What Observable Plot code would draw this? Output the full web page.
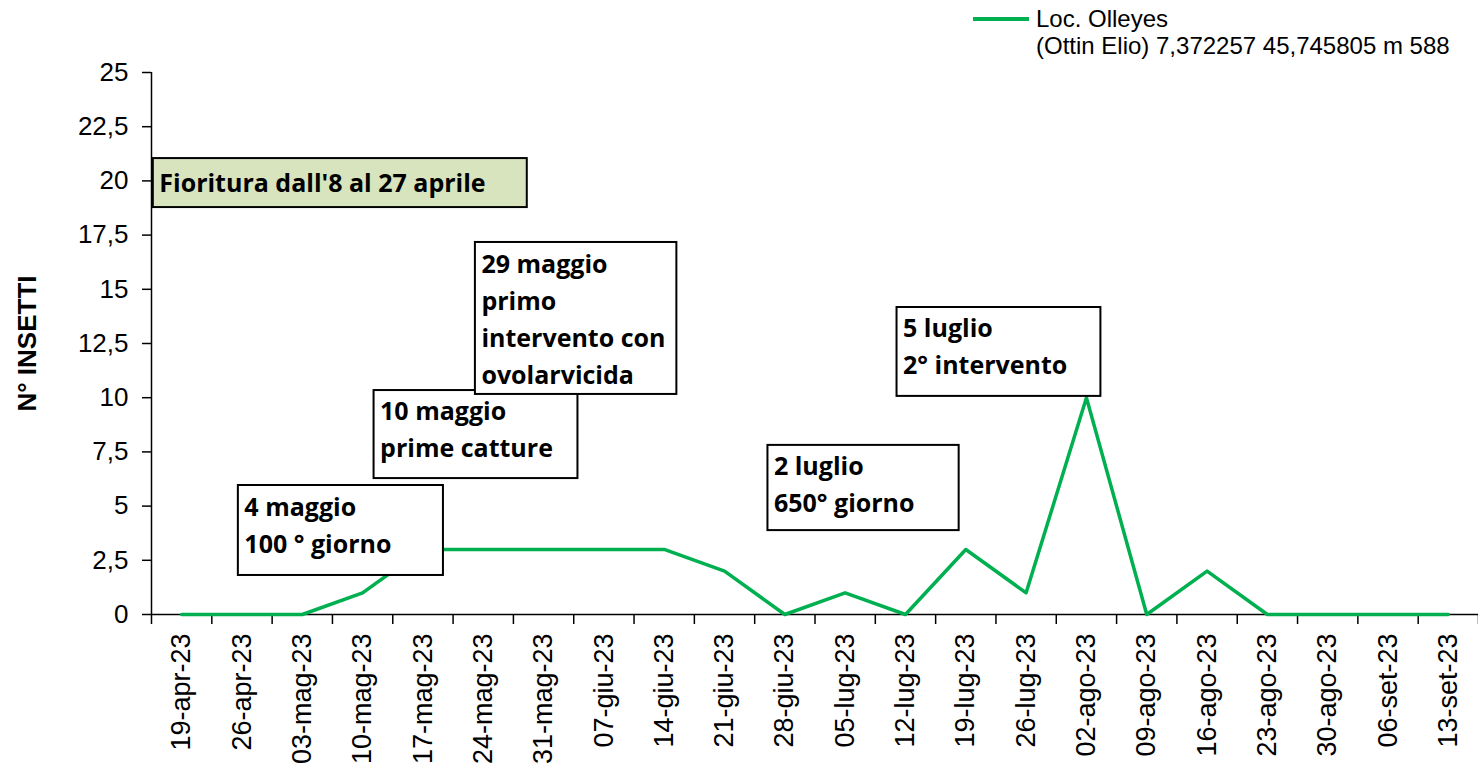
<!DOCTYPE html>
<html>
<head>
<meta charset="utf-8">
<script src="https://cdn.jsdelivr.net/npm/d3@7"></script>
<script src="https://cdn.jsdelivr.net/npm/@observablehq/plot@0.6"></script>
<style>
  html, body { margin: 0; padding: 0; background: #fff; }
  #legend { position: relative; width: 1478px; height: 50px; font-family: "Liberation Sans", Arial, sans-serif; font-size: 24px; color: #000; }
  #legend .swatch { position: absolute; left: 973px; top: 17px; width: 56px; height: 4px; background: #00B050; }
  #legend .txt { position: absolute; left: 1036px; top: 5px; line-height: 27px; white-space: nowrap; }
</style>
</head>
<body>
<div id="legend"><div class="swatch"></div><div class="txt"></div></div>
<div id="chart"></div>
<script>
const categories = ["19-apr-23", "26-apr-23", "03-mag-23", "10-mag-23", "17-mag-23", "24-mag-23", "31-mag-23", "07-giu-23", "14-giu-23", "21-giu-23", "28-giu-23", "05-lug-23", "12-lug-23", "19-lug-23", "26-lug-23", "02-ago-23", "09-ago-23", "16-ago-23", "23-ago-23", "30-ago-23", "06-set-23", "13-set-23"];
const values = [0, 0, 0, 1, 3, 3, 3, 3, 3, 2, 0, 1, 0, 3, 1, 10, 0, 2, 0, 0, 0, 0];
const yTicks = [0, 2.5, 5, 7.5, 10, 12.5, 15, 17.5, 20, 22.5, 25];
const seriesName = ["Loc. Olleyes", "(Ottin Elio) 7,372257 45,745805 m 588"];
const yLabel = "N° INSETTI";

// annotation boxes (x in category index units, y in data units)
const annotations = [
  {text: "Fioritura dall'8 al 27 aprile", x1: -0.47, x2: 5.73, y1: 18.77, y2: 21.03, ty: 20.72, fill: "#D7E4BD"},
  {text: "4 maggio\n100 ° giorno", x1: 0.94, x2: 4.34, y1: 1.80, y2: 5.95, ty: 5.75, fill: "white"},
  {text: "10 maggio\nprime catture", x1: 3.19, x2: 6.57, y1: 6.27, y2: 10.33, ty: 10.2, fill: "white"},
  {text: "29 maggio\nprimo\nintervento con\novolarvicida", x1: 4.87, x2: 8.21, y1: 10.15, y2: 17.16, ty: 16.98, fill: "white"},
  {text: "2 luglio\n650° giorno", x1: 9.72, x2: 12.89, y1: 3.87, y2: 7.80, ty: 7.65, fill: "white"},
  {text: "5 luglio\n2° intervento", x1: 11.86, x2: 15.24, y1: 10.06, y2: 14.16, ty: 14.02, fill: "white"}
];

document.querySelector("#legend .txt").innerHTML = seriesName.join("<br>");

const data = categories.map((c, i) => ({i, c, v: values[i]}));
const fmt = d => String(d).replace(".", ",");

const chart = Plot.plot({
  width: 1478,
  height: 719,
  marginLeft: 151,
  marginRight: 0,
  marginTop: 22,
  marginBottom: 155,
  x: {type: "linear", domain: [-0.5, categories.length - 0.5]},
  y: {domain: [0, 25]},
  style: {fontFamily: "'Liberation Sans', Arial, sans-serif", background: "white", color: "black", overflow: "visible"},
  marks: [
    Plot.axisY({ticks: yTicks, tickSize: 9, tickPadding: 14, tickFormat: fmt, fontSize: 26, label: null, strokeWidth: 1.5}),
    Plot.axisX({ticks: d3.range(categories.length), tickFormat: i => categories[i], tickSize: 0, tickPadding: 19, tickRotate: -90, fontSize: 27, label: null}),
    Plot.axisX({ticks: d3.range(categories.length + 1).map(i => i - 0.5), tickFormat: () => "", tickSize: 10, label: null, strokeWidth: 1.5}),
    Plot.ruleY([0], {stroke: "black", strokeWidth: 1.5}),
    Plot.ruleX([-0.5], {y1: 0, y2: 25, stroke: "black", strokeWidth: 1.5}),
    Plot.line(data, {x: "i", y: "v", stroke: "#00B050", strokeWidth: 3.5}),
    Plot.rect(annotations, {x1: "x1", x2: "x2", y1: "y1", y2: "y2", fill: "fill", stroke: "black", strokeWidth: 2}),
    Plot.text(annotations, {x: "x1", y: "ty", text: "text", textAnchor: "start", lineAnchor: "top", dx: 6, fontSize: 25, fontWeight: "bold", fontFamily: "'Open Sans', sans-serif", lineHeight: 1.48, fill: "black"}),
    Plot.text([yLabel], {frameAnchor: "left", textAnchor: "middle", dx: -124, rotate: -90, fontSize: 26, fontWeight: "bold", fill: "black"})
  ]
});
document.getElementById("chart").appendChild(chart);
</script>
</body>
</html>
